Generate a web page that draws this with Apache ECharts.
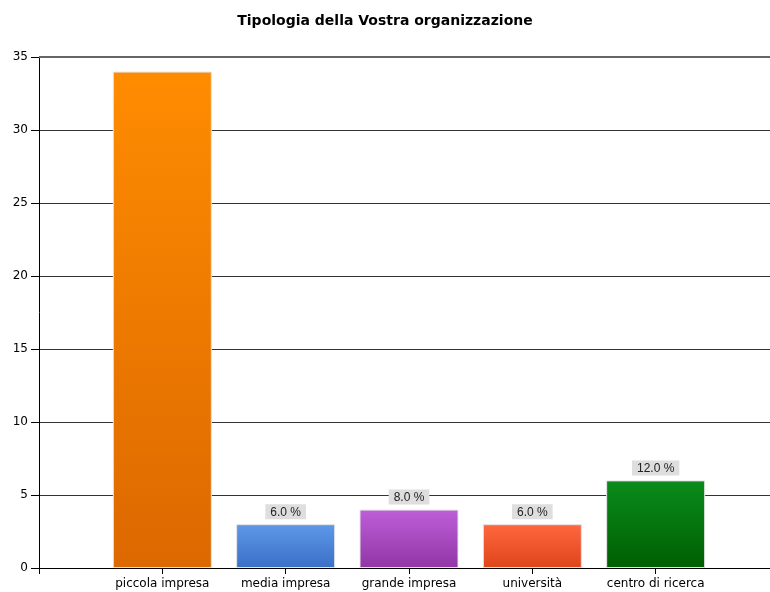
<!DOCTYPE html>
<html>
<head>
<meta charset="utf-8">
<script src="https://cdn.jsdelivr.net/npm/echarts@6/dist/echarts.min.js"></script>
<style>html,body{margin:0;padding:0;background:#fff;overflow:hidden}#c{width:770px;height:592px}</style>
</head>
<body>
<div id="c"></div>
<script>
const titleText = "Tipologia della Vostra organizzazione";
const categories = ["piccola impresa", "media impresa", "grande impresa", "università", "centro di ricerca"];
const values = [34, 3, 4, 3, 6];
const showPct = [false, true, true, true, true];
const yTicks = [0, 5, 10, 15, 20, 25, 30, 35];

const gradients = [
  ["#FF8C00", "#DC6800"],
  ["#5E98E8", "#3A6FC6"],
  ["#BE5ED8", "#9036A6"],
  ["#FF6741", "#DE4519"],
  ["#0A8C1C", "#005E00"]
];
const FONT = 'DejaVu Sans, Liberation Sans, Arial';
const total = values.reduce((a, b) => a + b, 0);
const axisCats = [""].concat(categories).concat([""]);
const seriesData = [null].concat(values.map((v, i) => ({
  value: v,
  itemStyle: {
    color: new echarts.graphic.LinearGradient(0, 0, 0, 1, [
      { offset: 0, color: gradients[i][0] },
      { offset: 1, color: gradients[i][1] }
    ])
  },
  label: { show: showPct[i] }
}))).concat([null]);

const chart = echarts.init(document.getElementById('c'), null, { renderer: 'canvas' });
chart.setOption({
  animation: false,
  backgroundColor: '#ffffff',
  title: {
    text: titleText,
    left: 'center',
    top: 9,
    textStyle: { fontFamily: FONT, fontSize: 14, fontWeight: 'bold', color: '#000' }
  },
  grid: { left: 39, width: 740, top: 57, bottom: 24, containLabel: false, outerBoundsMode: 'none' },
  xAxis: {
    type: 'category',
    data: axisCats,
    boundaryGap: false,
    axisLine: { show: true, lineStyle: { color: '#000', width: 1 } },
    axisTick: { show: true, length: 6, lineStyle: { color: '#000' } },
    axisLabel: { color: '#000', fontSize: 12, fontFamily: FONT, margin: 10, interval: 0 },
    splitLine: { show: false }
  },
  yAxis: {
    type: 'value',
    min: yTicks[0],
    max: yTicks[yTicks.length - 1],
    interval: yTicks[1] - yTicks[0],
    axisLine: { show: true, lineStyle: { color: '#000', width: 1 } },
    axisTick: { show: true, length: 8, lineStyle: { color: '#000' } },
    axisLabel: { color: '#000', fontSize: 12, fontFamily: FONT, margin: 11 },
    splitLine: {
      show: true,
      lineStyle: {
        color: yTicks.map((t, i) => i === 0 ? '#000' : (i === yTicks.length - 1 ? '#666' : '#333')),
        width: 1
      }
    }
  },
  series: [{
    type: 'bar',
    data: seriesData,
    barWidth: 99,
    itemStyle: { borderColor: '#e4e4e4', borderWidth: 1 },
    label: {
      show: true,
      position: 'top',
      distance: 5,
      formatter: p => (p.value / total * 100).toFixed(1) + ' %',
      backgroundColor: '#dedede',
      padding: [2, 5, 1, 5],
      color: '#222',
      fontSize: 12,
      fontFamily: 'Liberation Sans, Arial'
    },
    markLine: {
      silent: true,
      symbol: 'none',
      label: { show: false },
      lineStyle: { color: '#666', width: 2, type: 'solid' },
      data: [{ yAxis: yTicks[yTicks.length - 1] }]
    }
  }]
});
</script>
</body>
</html>
